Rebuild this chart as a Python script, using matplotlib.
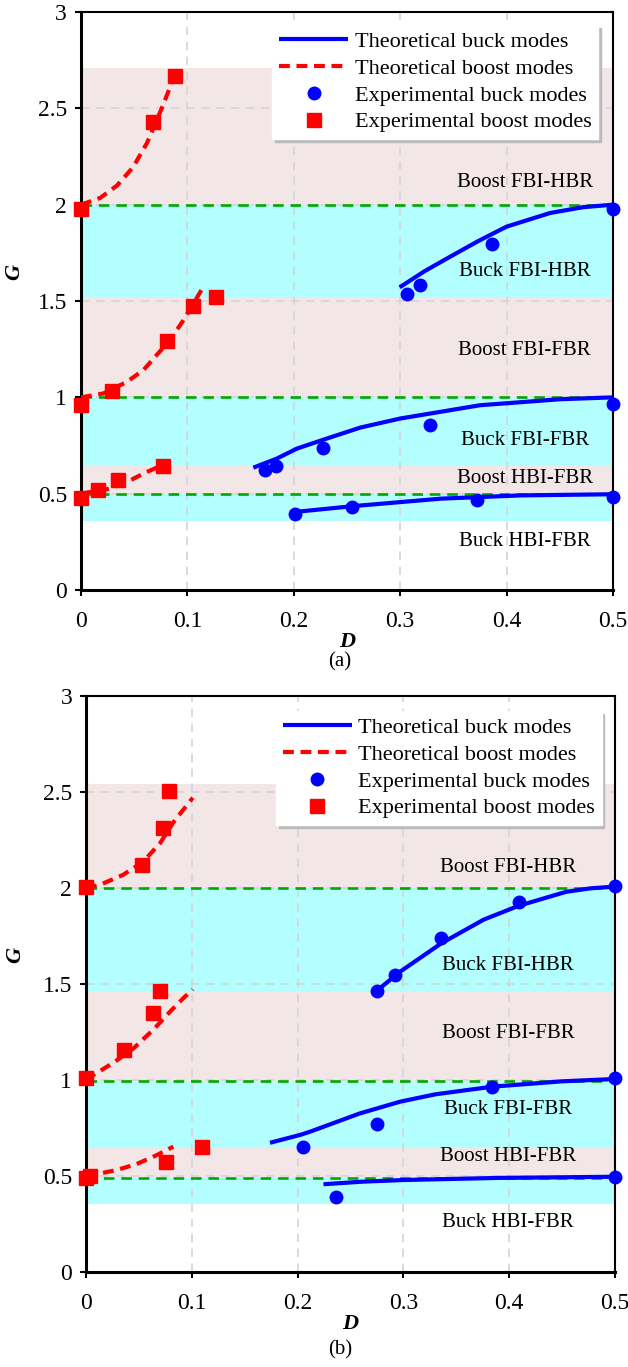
import matplotlib
matplotlib.use("Agg")
import matplotlib.pyplot as plt

plt.rcParams['font.family'] = ['Liberation Serif', 'DejaVu Serif']

# ---------------- data, chart (a) ----------------
a_buck_th = [
    ([0.2995, 0.323, 0.347, 0.373, 0.40, 0.441, 0.472, 0.5], [1.571, 1.655, 1.73, 1.81, 1.886, 1.957, 1.987, 2.0]),
    ([0.162, 0.184, 0.203, 0.231, 0.2625, 0.30, 0.375, 0.45, 0.5], [0.635, 0.682, 0.734, 0.786, 0.843, 0.89, 0.959, 0.99, 1.0]),
    ([0.201, 0.255, 0.338, 0.413, 0.5], [0.405, 0.435, 0.474, 0.491, 0.497]),
]
a_boost_th = [
    ([0.0, 0.018, 0.034, 0.049, 0.062, 0.077, 0.09], [2.0, 2.035, 2.10, 2.195, 2.32, 2.515, 2.70]),
    ([0.0, 0.021, 0.043, 0.0586, 0.071, 0.0837, 0.0962, 0.1057, 0.1135], [1.0, 1.02, 1.08, 1.141, 1.219, 1.297, 1.40, 1.487, 1.56]),
    ([0.0, 0.027, 0.043, 0.0586, 0.071, 0.077], [0.5, 0.526, 0.56, 0.604, 0.635, 0.65]),
]
a_buck_x = [0.306, 0.319, 0.386, 0.5, 0.173, 0.1835, 0.227, 0.328, 0.5, 0.2015, 0.2547, 0.372, 0.5]
a_buck_y = [1.536, 1.583, 1.794, 1.978, 0.625, 0.643, 0.737, 0.858, 0.964, 0.396, 0.43, 0.469, 0.482]
a_boost_x = [0.0, 0.068, 0.088, 0.0, 0.029, 0.0806, 0.1057, 0.127, 0.0, 0.0157, 0.035, 0.077]
a_boost_y = [1.976, 2.43, 2.67, 0.959, 1.033, 1.293, 1.473, 1.522, 0.477, 0.517, 0.573, 0.642]
a_pink = [(2.0, 2.71), (1.0, 1.52), (0.5, 0.65)]
a_cyan = [(1.52, 2.0), (0.65, 1.0), (0.36, 0.5)]
a_levels = [2.0, 1.0, 0.5]
a_labels_y = [2.114, 1.652, 1.241, 0.777, 0.578, 0.254]

# ---------------- data, chart (b) ----------------
b_buck_th = [
    ([0.275, 0.297, 0.336, 0.376, 0.409, 0.454, 0.477, 0.5], [1.465, 1.564, 1.712, 1.835, 1.907, 1.98, 1.998, 2.007]),
    ([0.174, 0.2025, 0.212, 0.259, 0.297, 0.33, 0.384, 0.45, 0.5], [0.673, 0.714, 0.731, 0.826, 0.887, 0.925, 0.965, 0.993, 1.005]),
    ([0.2245, 0.26, 0.30, 0.39, 0.5], [0.457, 0.470, 0.479, 0.490, 0.496]),
]
b_boost_th = [
    ([0.0, 0.013, 0.035, 0.054, 0.07, 0.083, 0.101], [2.0, 2.016, 2.068, 2.137, 2.233, 2.345, 2.47]),
    ([0.0, 0.007, 0.026, 0.045, 0.064, 0.0795, 0.092, 0.101], [1.0, 1.026, 1.09, 1.165, 1.264, 1.356, 1.426, 1.472]),
    ([0.0, 0.006, 0.029, 0.048, 0.067, 0.0826], [0.495, 0.505, 0.531, 0.5625, 0.609, 0.653]),
]
b_buck_x = [0.5, 0.409, 0.336, 0.292, 0.275, 0.5, 0.384, 0.275, 0.205, 0.2365, 0.5]
b_buck_y = [2.012, 1.929, 1.741, 1.547, 1.465, 1.012, 0.965, 0.771, 0.649, 0.389, 0.493]
b_boost_x = [0.0, 0.053, 0.073, 0.078, 0.0, 0.036, 0.063, 0.070, 0.0, 0.004, 0.0757, 0.1095]
b_boost_y = [2.007, 2.12, 2.31, 2.507, 1.009, 1.156, 1.35, 1.465, 0.49, 0.50, 0.574, 0.649]
b_pink = [(2.0, 2.54), (0.995, 1.457), (0.49, 0.644)]
b_cyan = [(1.457, 2.0), (0.644, 0.995), (0.353, 0.49)]
b_levels = [2.0, 0.995, 0.49]
b_labels_y = [2.108, 1.594, 1.24, 0.847, 0.6, 0.257]

region_names = ['Boost FBI-HBR', 'Buck FBI-HBR', 'Boost FBI-FBR',
                'Buck FBI-FBR', 'Boost HBI-FBR', 'Buck HBI-FBR']
xticks = [0, 0.1, 0.2, 0.3, 0.4, 0.5]
yticks = [0, 0.5, 1, 1.5, 2, 2.5, 3]

PINK = '#F3E6E6'
CYAN = '#B3FFFF'


def draw(ax, buck_th, boost_th, bx, by, sx, sy, pink, cyan, levels, lab_y, lab_x, leg_anchor, ylab_x):
    for lo, hi in pink:
        ax.axhspan(lo, hi, color=PINK, lw=0, zorder=0)
    for lo, hi in cyan:
        ax.axhspan(lo, hi, color=CYAN, lw=0, zorder=0)
    ax.grid(True, color='#D4D4D4', linestyle=(0, (5, 4)), linewidth=1.2, zorder=1)
    ax.set_axisbelow(True)
    for g in levels:
        ax.axhline(g, color='#00A800', lw=1.9, dashes=(4, 2.6), zorder=2)

    for i, (x, y) in enumerate(buck_th):
        ax.plot(x, y, color='#0000FF', lw=3.0, solid_capstyle='butt', solid_joinstyle='round',
                zorder=3, label='Theoretical buck modes' if i == 0 else None)
    for i, (x, y) in enumerate(boost_th):
        ax.plot(x, y, color='#FF0000', lw=3.0, dashes=(2.6, 1.6), dash_joinstyle='round',
                zorder=3, label='Theoretical boost modes' if i == 0 else None)
    ax.plot(bx, by, 'o', color='#0000FF', ms=9, ls='none', zorder=4, clip_on=False,
            label='Experimental buck modes')
    ax.plot(sx, sy, 's', color='#FF0000', ms=10.5, ls='none', zorder=4, clip_on=False,
            label='Experimental boost modes')

    for name, gy in zip(region_names, lab_y):
        ax.text(lab_x, gy, name, ha='center', va='center', fontsize=15, zorder=5)

    ax.set_xlim(0, 0.5)
    ax.set_ylim(0, 3)
    ax.set_xticks(xticks)
    ax.set_xticklabels(['0', '0.1', '0.2', '0.3', '0.4', '0.5'])
    ax.set_yticks(yticks)
    ax.set_yticklabels(['0', '0.5', '1', '1.5', '2', '2.5', '3'])
    ax.tick_params(labelsize=17, length=4, width=1.5, direction='out', pad=6)
    ax.tick_params(axis='x', pad=11)
    for s in ax.spines.values():
        s.set_linewidth(1.5)
    ax.spines['left'].set_linewidth(2.2)
    ax.spines['bottom'].set_linewidth(2.2)
    ax.set_xlabel('D', fontsize=16, fontweight='bold', fontstyle='italic', labelpad=0)
    ax.set_ylabel('G', fontsize=16, fontweight='bold', fontstyle='italic')
    ax.yaxis.set_label_coords(ylab_x, 0.55)

    leg = ax.legend(loc='upper right', bbox_to_anchor=leg_anchor, borderaxespad=0,
                    fontsize=16, shadow={'color': '#B8B8B8', 'alpha': 0.9},
                    fancybox=False, framealpha=1,
                    edgecolor='white', labelspacing=0.28, borderpad=0.3,
                    handlelength=3.1, handletextpad=0.3)
    leg.set_zorder(10)


fig = plt.figure(figsize=(6.28, 13.67), dpi=100)
ax1 = fig.add_axes([0.129, 0.5684, 0.847, 0.4228])
ax2 = fig.add_axes([0.137, 0.0695, 0.842, 0.4214])

draw(ax1, a_buck_th, a_boost_th, a_buck_x, a_buck_y, a_boost_x, a_boost_y,
     a_pink, a_cyan, a_levels, a_labels_y, 0.417, (0.972, 0.978), -0.106)
draw(ax2, b_buck_th, b_boost_th, b_buck_x, b_buck_y, b_boost_x, b_boost_y,
     b_pink, b_cyan, b_levels, b_labels_y, 0.399, (0.975, 0.974), -0.115)

fig.text(0.541, 1 - 662 / 1367, '(a)', ha='center', va='center', fontsize=15)
fig.text(0.541, 1 - 1350 / 1367, '(b)', ha='center', va='center', fontsize=15)

fig.savefig('out.png', dpi=100)
